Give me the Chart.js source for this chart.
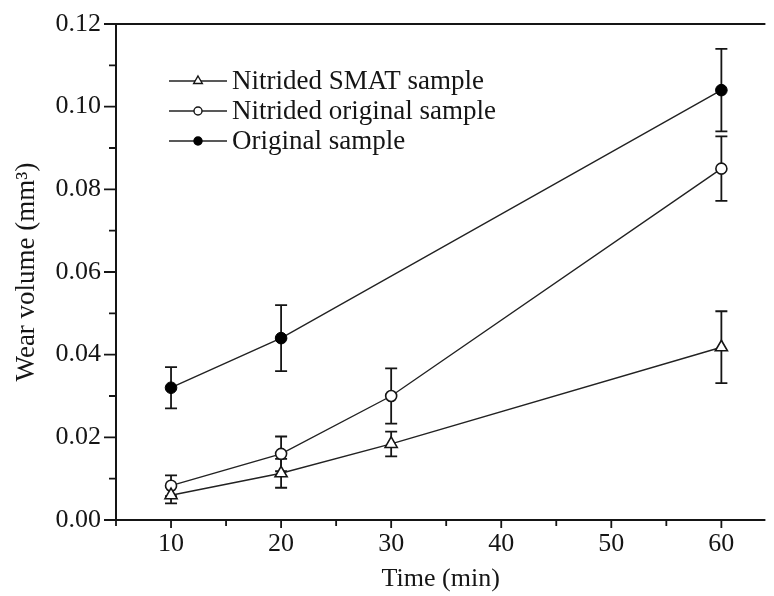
<!DOCTYPE html>
<html><head><meta charset="utf-8">
<script src="https://cdn.jsdelivr.net/npm/chart.js@4"></script>
<style>html,body{margin:0;padding:0;background:#fff;overflow:hidden}#wrap{width:774px;height:596px;position:relative}</style>
</head><body><div id="wrap"><canvas id="c" width="774" height="596"></canvas></div>
<script>
// ---- data ----
const times = [10, 20, 30, 60];
const timesOriginal = [10, 20, 60];
const smatValues = [0.006, 0.0113, 0.0184, 0.0418];
const smatErrors = [0.002, 0.0035, 0.003, 0.0087];
const nitOrigValues = [0.0083, 0.016, 0.030, 0.085];
const nitOrigErrors = [0.0025, 0.0042, 0.0067, 0.0078];
const origValues = [0.032, 0.044, 0.104];
const origErrors = [0.005, 0.008, 0.010];
const seriesNames = ['Nitrided SMAT sample', 'Nitrided original sample', 'Original sample'];
const xTickLabels = ['10', '20', '30', '40', '50', '60'];
const yTickLabels = ['0.00', '0.02', '0.04', '0.06', '0.08', '0.10', '0.12'];
const xTitle = 'Time (min)';
const yTitle = 'Wear volume (mm\u00B3)';

const INK = '#151515';
const FONT = 'Liberation Serif, Times New Roman, serif';

function pts(xs, ys) { return xs.map((v, i) => ({x: v, y: ys[i]})); }
const errorsByDataset = [smatErrors, nitOrigErrors, origErrors];

const datasets = [
  {label: seriesNames[0], data: pts(times, smatValues), pointStyle: 'triangle', pointRadius: 7,
   pointBackgroundColor: '#fff', pointBorderColor: INK, pointBorderWidth: 1.6,
   borderColor: '#222', borderWidth: 1.4, tension: 0, fill: false},
  {label: seriesNames[1], data: pts(times, nitOrigValues), pointStyle: 'circle', pointRadius: 5.5,
   pointBackgroundColor: '#fff', pointBorderColor: INK, pointBorderWidth: 1.6,
   borderColor: '#222', borderWidth: 1.4, tension: 0, fill: false},
  {label: seriesNames[2], data: pts(timesOriginal, origValues), pointStyle: 'circle', pointRadius: 5.8,
   pointBackgroundColor: '#000', pointBorderColor: '#000', pointBorderWidth: 1,
   borderColor: '#222', borderWidth: 1.4, tension: 0, fill: false}
];

const errorBarPlugin = {
  id: 'errorBars',
  beforeDatasetsDraw(chart) {
    const {ctx, scales: {x, y}} = chart;
    ctx.save();
    ctx.strokeStyle = INK;
    ctx.lineWidth = 1.8;
    chart.data.datasets.forEach((ds, di) => {
      const errs = errorsByDataset[di];
      ds.data.forEach((p, j) => {
        const e = errs[j];
        const px = x.getPixelForValue(p.x);
        const top = y.getPixelForValue(p.y + e);
        const bot = y.getPixelForValue(p.y - e);
        ctx.beginPath();
        ctx.moveTo(px, top); ctx.lineTo(px, bot);
        ctx.moveTo(px - 6, top); ctx.lineTo(px + 6, top);
        ctx.moveTo(px - 6, bot); ctx.lineTo(px + 6, bot);
        ctx.stroke();
      });
    });
    ctx.restore();
  }
};

const framePlugin = {
  id: 'frame',
  afterDraw(chart) {
    const {ctx, chartArea: a, scales: {x, y}} = chart;
    ctx.save();
    ctx.strokeStyle = INK;
    ctx.lineWidth = 2;
    ctx.beginPath();
    ctx.moveTo(a.left, a.bottom); ctx.lineTo(a.left, a.top);
    ctx.moveTo(a.left, a.top); ctx.lineTo(a.right, a.top);
    ctx.moveTo(a.left - 1, a.bottom); ctx.lineTo(a.right, a.bottom);
    ctx.stroke();
    ctx.lineWidth = 1.8;
    ctx.beginPath();
    y.ticks.forEach(t => {
      const py = y.getPixelForValue(t.value);
      const major = Math.round(t.value * 100) % 2 === 0;
      const len = major ? 12 : 7;
      ctx.moveTo(a.left - len, py); ctx.lineTo(a.left, py);
    });
    x.ticks.forEach(t => {
      const px = x.getPixelForValue(t.value);
      const major = Math.round(t.value) % 10 === 0;
      const len = major ? 8 : 6;
      ctx.moveTo(px, a.bottom); ctx.lineTo(px, a.bottom + len);
    });
    ctx.stroke();
    ctx.restore();
  }
};

const legendPlugin = {
  id: 'lineLegend',
  afterDraw(chart) {
    const ctx = chart.ctx;
    const rows = [81, 111, 141];
    ctx.save();
    chart.data.datasets.forEach((ds, i) => {
      const yy = rows[i];
      ctx.strokeStyle = '#222';
      ctx.lineWidth = 1.4;
      ctx.beginPath();
      ctx.moveTo(169, yy); ctx.lineTo(227, yy);
      ctx.stroke();
      ctx.fillStyle = ds.pointBackgroundColor;
      ctx.strokeStyle = ds.pointBorderColor;
      ctx.lineWidth = 1.4;
      Chart.helpers.drawPoint(ctx, {pointStyle: ds.pointStyle, radius: ds.pointStyle === 'triangle' ? 5 : 4, rotation: 0, borderWidth: 1.4}, 198, yy);
      ctx.fillStyle = INK;
      ctx.font = '27px ' + FONT;
      ctx.textBaseline = 'middle';
      ctx.textAlign = 'left';
      ctx.fillText(ds.label, 232, yy + 1);
    });
    ctx.restore();
  }
};

new Chart(document.getElementById('c'), {
  type: 'line',
  data: {datasets},
  options: {
    responsive: false,
    devicePixelRatio: 1,
    animation: false,
    layout: {padding: {top: 24, left: 0, right: 0, bottom: 0}},
    plugins: {legend: {display: false}, tooltip: {enabled: false}},
    scales: {
      x: {
        type: 'linear', min: 5, max: 64,
        grid: {display: false}, border: {display: false},
        ticks: {
          stepSize: 5, includeBounds: false, autoSkip: false, maxRotation: 0,
          color: INK, font: {family: FONT, size: 26}, padding: 1,
          callback: v => (Math.round(v) % 10 === 0 ? xTickLabels[Math.round(v) / 10 - 1] : '')
        },
        title: {display: true, text: xTitle, color: INK, font: {family: FONT, size: 26}, padding: {top: 0, bottom: 1}},
        afterFit: s => { s.height = 76; }
      },
      y: {
        type: 'linear', min: 0, max: 0.12,
        grid: {display: false}, border: {display: false},
        ticks: {
          stepSize: 0.01, autoSkip: false, color: INK, font: {family: FONT, size: 26}, padding: 7,
          callback: v => { const k = Math.round(v * 100); return k % 2 === 0 ? yTickLabels[k / 2] : ''; }
        },
        title: {display: true, text: yTitle, color: INK, font: {family: FONT, size: 27}, padding: {top: 11, bottom: 0}},
        afterFit: s => { s.width = 116; }
      }
    }
  },
  plugins: [errorBarPlugin, framePlugin, legendPlugin]
});
</script>
</body></html>
